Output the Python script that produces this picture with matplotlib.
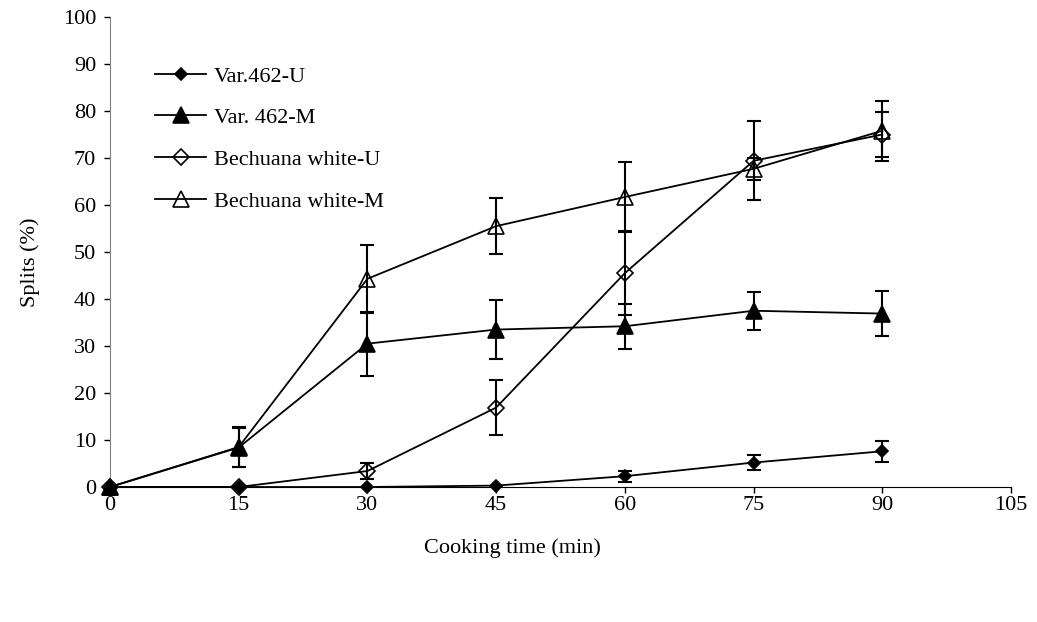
import matplotlib
matplotlib.use("Agg")
import matplotlib.pyplot as plt
import numpy as np

# cooking time (min)
time = [0, 15, 30, 45, 60, 75, 90]

# splits (%) and error bars
var462_u = [0, 0, 0, 0.3, 2.3, 5.2, 7.6]
var462_u_err = [0, 0, 0, 0, 1.2, 1.6, 2.2]
var462_m = [0, 8.4, 30.5, 33.5, 34.2, 37.5, 36.9]
var462_m_err = [0, 4.2, 6.8, 6.3, 4.8, 4.0, 4.7]
bech_u = [0, 0, 3.4, 16.9, 45.5, 69.4, 75.0]
bech_u_err = [0, 0, 1.7, 5.8, 9.0, 8.4, 4.7]
bech_m = [0, 8.5, 44.3, 55.5, 61.7, 67.7, 75.8]
bech_m_err = [0, 4.2, 7.2, 6.0, 7.5, 2.4, 6.4]

labels = ["Var.462-U", "Var. 462-M", "Bechuana white-U", "Bechuana white-M"]

plt.rcParams["font.family"] = ["Liberation Serif", "DejaVu Serif"]
plt.rcParams["font.size"] = 16

fig = plt.figure(figsize=(10.37, 6.22), dpi=100)
ax = fig.add_axes([110 / 1037, 1 - 487 / 622, 901 / 1037, 470 / 622])

series = [
    (var462_u, var462_u_err, dict(marker="D", markersize=6.5, markerfacecolor="black")),
    (var462_m, var462_m_err, dict(marker="^", markersize=11, markerfacecolor="black")),
    (bech_u, bech_u_err, dict(marker="D", markersize=8.5, markerfacecolor="none")),
    (bech_m, bech_m_err, dict(marker="^", markersize=12, markerfacecolor="none")),
]

for (vals, errs, style), lab in zip(series, labels):
    ax.plot(time, vals, color="black", lw=1.3, markeredgecolor="black",
            markeredgewidth=1.2, label=lab, clip_on=False, zorder=3, **style)
    t = np.array(time)
    v = np.array(vals)
    e = np.array(errs)
    keep = e > 0
    ax.errorbar(t[keep], v[keep], yerr=e[keep], fmt="none", ecolor="black",
                elinewidth=1.5, capsize=5, capthick=1.5, zorder=4)

ax.set_xlim(0, 105)
ax.set_ylim(0, 100)
ax.set_xticks(range(0, 106, 15))
ax.set_yticks(range(0, 101, 10))
ax.set_xlabel("Cooking time (min)", va="top")
ax.xaxis.set_label_coords((512 - 110) / 901, -(538 - 487) / 470)
ax.set_ylabel("Splits (%)")
ax.yaxis.set_label_coords(-(110 - 40) / 901, (487 - 262) / 470)

ax.spines["top"].set_visible(False)
ax.spines["right"].set_visible(False)
ax.spines["left"].set_color("#808080")
ax.spines["bottom"].set_color("black")
ax.tick_params(direction="out", length=4, width=1)
ax.tick_params(axis="x", pad=2.5)
ax.tick_params(axis="y", pad=6)

ax.legend(loc="upper left", bbox_to_anchor=(155 / 1037, 1 - 66 / 622),
          bbox_transform=fig.transFigure, frameon=False, borderpad=0,
          borderaxespad=0, handlelength=2.3, handletextpad=0.35,
          labelspacing=0.95)

fig.savefig("out.png", dpi=100)
